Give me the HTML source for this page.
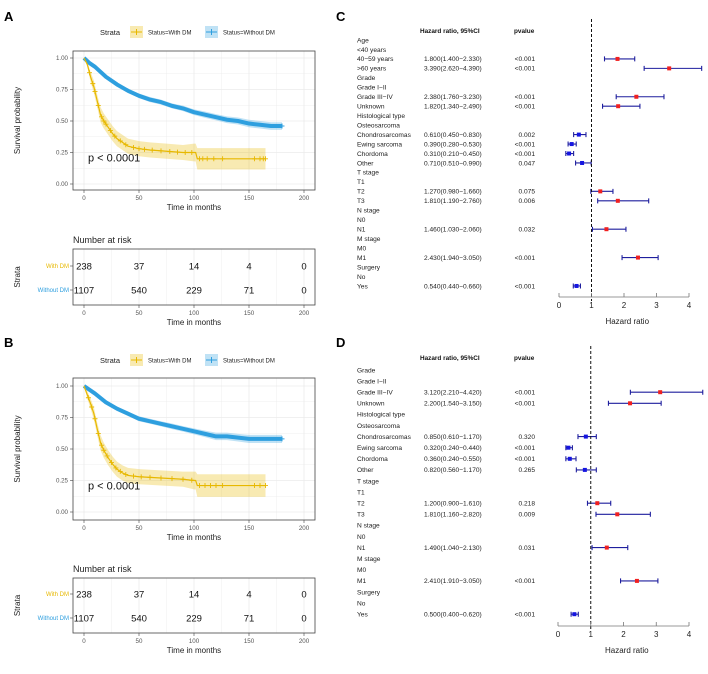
<!DOCTYPE html>
<html><head><meta charset="utf-8"><style>
html,body{margin:0;padding:0;background:#fff}
svg{display:block;font-family:"Liberation Sans",Arial,sans-serif}
</style></head><body>
<svg id="fig" width="708" height="674" viewBox="0 0 708 674" xmlns="http://www.w3.org/2000/svg"></svg>
<script>
// ---------- KM data ----------
const timeTicks = [0,50,100,150,200];
const survTicks = [0,0.25,0.5,0.75,1.0];
const survTickLabels = ["0.00","0.25","0.50","0.75","1.00"];
const riskWithDM = [238,37,14,4,0];
const riskWithoutDM = [1107,540,229,71,0];

const aWithT  = [0,3,6,9,12,15,18,22,26,30,35,40,50,60,75,90,100,101.5,103,165];
const aWithS  = [1,0.95,0.85,0.77,0.66,0.55,0.50,0.45,0.40,0.36,0.33,0.30,0.28,0.27,0.26,0.25,0.25,0.25,0.20,0.20];
const aWithCIw= [0,0.02,0.04,0.05,0.05,0.06,0.06,0.06,0.06,0.06,0.06,0.06,0.06,0.06,0.06,0.06,0.07,0.07,0.085,0.085];
const aWoT    = [0,5,10,20,30,40,50,60,70,80,90,100,110,120,130,140,150,160,170,180];
const aWoS    = [1,0.96,0.93,0.85,0.79,0.74,0.70,0.67,0.65,0.62,0.60,0.57,0.55,0.53,0.51,0.50,0.48,0.47,0.46,0.46];
const aWoCIw  = [0,0.01,0.012,0.015,0.015,0.017,0.018,0.02,0.02,0.02,0.022,0.022,0.025,0.025,0.027,0.028,0.03,0.03,0.03,0.03];
const aWithCens = [5,8,10,13,16,18,20,24,28,33,38,45,50,55,62,70,78,85,92,98,105,108,112,118,126,155,160,163,165];

const bWithT  = [0,3,6,9,12,15,18,22,26,30,35,40,50,70,90,100,101.5,103,165];
const bWithS  = [1,0.93,0.86,0.78,0.66,0.55,0.49,0.43,0.38,0.34,0.31,0.29,0.28,0.27,0.26,0.25,0.25,0.21,0.21];
const bWithCIw= [0,0.03,0.04,0.05,0.05,0.06,0.06,0.06,0.06,0.06,0.06,0.06,0.06,0.06,0.06,0.07,0.07,0.09,0.09];
const bWoT    = [0,10,20,30,40,50,60,70,80,90,100,110,120,130,140,150,180];
const bWoS    = [1,0.94,0.87,0.82,0.78,0.74,0.72,0.70,0.68,0.66,0.64,0.62,0.60,0.60,0.59,0.58,0.58];
const bWoCIw  = [0,0.012,0.015,0.017,0.018,0.02,0.02,0.02,0.022,0.022,0.024,0.026,0.03,0.03,0.03,0.032,0.032];
const bWithCens = [4,7,10,13,16,18,21,25,29,33,38,45,52,60,70,80,90,98,105,110,115,120,126,155,160,165];

// ---------- Forest data ----------
const cLabels = ["Age","<40 years","40−59 years",">60 years","Grade","Grade I−II","Grade III−IV","Unknown","Histological type","Osteosarcoma","Chondrosarcomas","Ewing sarcoma","Chordoma","Other","T stage","T1","T2","T3","N stage","N0","N1","M stage","M0","M1","Surgery","No","Yes"];
const cHR  = [null,null,1.80,3.39,null,null,2.38,1.82,null,null,0.61,0.39,0.31,0.71,null,null,1.27,1.81,null,null,1.46,null,null,2.43,null,null,0.54];
const cLo  = [null,null,1.40,2.62,null,null,1.76,1.34,null,null,0.45,0.28,0.21,0.51,null,null,0.98,1.19,null,null,1.03,null,null,1.94,null,null,0.44];
const cHi  = [null,null,2.33,4.39,null,null,3.23,2.49,null,null,0.83,0.53,0.45,0.99,null,null,1.66,2.76,null,null,2.06,null,null,3.05,null,null,0.66];
const cP   = ["","","<0.001","<0.001","","","<0.001","<0.001","","","0.002","<0.001","<0.001","0.047","","","0.075","0.006","","","0.032","","","<0.001","","","<0.001"];

const dLabels = ["Grade","Grade I−II","Grade III−IV","Unknown","Histological type","Osteosarcoma","Chondrosarcomas","Ewing sarcoma","Chordoma","Other","T stage","T1","T2","T3","N stage","N0","N1","M stage","M0","M1","Surgery","No","Yes"];
const dHR  = [null,null,3.12,2.20,null,null,0.85,0.32,0.36,0.82,null,null,1.20,1.81,null,null,1.49,null,null,2.41,null,null,0.50];
const dLo  = [null,null,2.21,1.54,null,null,0.61,0.24,0.24,0.56,null,null,0.90,1.16,null,null,1.04,null,null,1.91,null,null,0.40];
const dHi  = [null,null,4.42,3.15,null,null,1.17,0.44,0.55,1.17,null,null,1.61,2.82,null,null,2.13,null,null,3.05,null,null,0.62];
const dP   = ["","","<0.001","<0.001","","","0.320","<0.001","<0.001","0.265","","","0.218","0.009","","","0.031","","","<0.001","","","<0.001"];
const hrTicks = [0,1,2,3,4];

const NS="http://www.w3.org/2000/svg";
const svg=document.getElementById('fig');
function el(tag,attrs,parent,txt){const e=document.createElementNS(NS,tag);for(const k in attrs)e.setAttribute(k,attrs[k]);if(txt!==undefined)e.textContent=txt;(parent||svg).appendChild(e);return e;}
const YEL="#E7B800",BLU="#2E9FDF";

function linePath(T,S,fx,fy){return "M"+T.map((t,i)=>fx(t)+","+fy(S[i])).join("L");}
function bandPath(T,S,W,fx,fy){const up=T.map((t,i)=>fx(t)+","+fy(Math.min(1,S[i]+W[i])));const lo=T.map((t,i)=>fx(t)+","+fy(Math.max(0,S[i]-W[i]))).reverse();return "M"+up.join("L")+"L"+lo.join("L")+"Z";}
function survAt(T,S,t){for(let i=1;i<T.length;i++){if(T[i]>=t){const f=(t-T[i-1])/(T[i]-T[i-1]);return S[i-1]+f*(S[i]-S[i-1]);}}return S[S.length-1];}

function kmPanel(letter,oy,pb,p){
 const g=el('g',{},svg);
 
 
 const L=73,R=315,x0=84,x200=304;
 const fx=t=>x0+(x200-x0)*t/200, fy=s=>pb.y0+(pb.y1-pb.y0)*s;
 let t=el('text',{x:4,y:oy+21,'font-size':13,'font-weight':'bold'},g,letter);
 
 const lg=el('g',{},g);
 const ly=pb.leg;
 el('text',{x:100,y:ly+3,'font-size':7.5,fill:'#222'},lg,'Strata');
 el('rect',{x:130,y:ly-6,width:13,height:12,fill:YEL,'fill-opacity':0.3},lg);
 el('line',{x1:131,x2:142,y1:ly,y2:ly,stroke:YEL,'stroke-width':1},lg);
 el('line',{x1:136.5,x2:136.5,y1:ly-3,y2:ly+3,stroke:YEL,'stroke-width':1},lg);
 let e1=el('text',{x:148,y:ly+2.5,'font-size':6,fill:'#222'},lg,'Status=With DM');
 el('rect',{x:205,y:ly-6,width:13,height:12,fill:BLU,'fill-opacity':0.3},lg);
 el('line',{x1:206,x2:217,y1:ly,y2:ly,stroke:BLU,'stroke-width':1},lg);
 el('line',{x1:211.5,x2:211.5,y1:ly-3,y2:ly+3,stroke:BLU,'stroke-width':1},lg);
 let e2=el('text',{x:223,y:ly+2.5,'font-size':6,fill:'#222'},lg,'Status=Without DM');
 const grid=el('g',{stroke:'#ebebeb','stroke-width':0.6},g);
 for(let m=0;m<=200;m+=25){el('line',{x1:fx(m),x2:fx(m),y1:pb.top,y2:pb.bottom,'stroke-width':m%50?0.4:0.8},grid);}
 for(let s=0;s<=1.0001;s+=0.125){el('line',{x1:L,x2:R,y1:fy(s),y2:fy(s),'stroke-width':(Math.round(s*8)%2)?0.4:0.8},grid);}
 el('path',{d:bandPath(p.woT,p.woS,p.woW,fx,fy),fill:BLU,'fill-opacity':0.3},g);
 el('path',{d:bandPath(p.wT,p.wS,p.wW,fx,fy),fill:YEL,'fill-opacity':0.3},g);
 let c1=el('path',{d:linePath(p.woT,p.woS,fx,fy),fill:'none',stroke:BLU,'stroke-width':4,'stroke-linejoin':'round'},g);
 
 let c2=el('path',{d:linePath(p.wT,p.wS,fx,fy),fill:'none',stroke:YEL,'stroke-width':1.2},g);
 
 p.cens.forEach(ct=>{const x=fx(ct),y=fy(survAt(p.wT,p.wS,ct));el('path',{d:`M${x-2.5},${y}H${x+2.5}M${x},${y-2.5}V${y+2.5}`,stroke:YEL,'stroke-width':0.9},g);});
 const lastT=p.woT[p.woT.length-1],lastS=p.woS[p.woS.length-1];
 el('path',{d:`M${fx(lastT)-2.5},${fy(lastS)}H${fx(lastT)+2.5}M${fx(lastT)},${fy(lastS)-2.5}V${fy(lastS)+2.5}`,stroke:BLU,'stroke-width':1},g);
 el('rect',{x:L,y:pb.top,width:R-L,height:pb.bottom-pb.top,fill:'none',stroke:'#444','stroke-width':0.8},g);
 let pv=el('text',{x:88,y:fy(0.25)+9,'font-size':11,fill:'#111'},g,'p < 0.0001');
 survTicks.forEach((s,i)=>{el('line',{x1:L-3,x2:L,y1:fy(s),y2:fy(s),stroke:'#444','stroke-width':0.6},g);el('text',{x:L-5,y:fy(s)+2.2,'font-size':6.2,fill:'#555','text-anchor':'end'},g,survTickLabels[i]);});
 timeTicks.forEach(tt=>{el('line',{x1:fx(tt),x2:fx(tt),y1:pb.bottom,y2:pb.bottom+3,stroke:'#444','stroke-width':0.6},g);el('text',{x:fx(tt),y:pb.bottom+10,'font-size':6.2,fill:'#555','text-anchor':'middle'},g,String(tt));});
 let xt=el('text',{x:194,y:pb.bottom+20,'font-size':8,fill:'#222','text-anchor':'middle'},g,'Time in months');
 let yt=el('text',{x:0,y:0,'font-size':8,fill:'#222','text-anchor':'middle',transform:`translate(20,${(pb.top+pb.bottom)/2}) rotate(-90)`},g,'Survival probability');
 const rt=el('g',{},g);
 el('text',{x:L,y:pb.riskTop-6,'font-size':9,fill:'#222'},rt,'Number at risk');
 for(let m=0;m<=200;m+=25){el('line',{x1:fx(m),x2:fx(m),y1:pb.riskTop,y2:pb.riskBot,stroke:'#ebebeb','stroke-width':m%50?0.4:0.8},rt);}
 el('rect',{x:L,y:pb.riskTop,width:R-L,height:pb.riskBot-pb.riskTop,fill:'none',stroke:'#444','stroke-width':0.8},rt);
 el('text',{x:L-4,y:pb.row1+2,'font-size':6,fill:YEL,'text-anchor':'end'},rt,'With DM');
 el('text',{x:L-4,y:pb.row2+2,'font-size':6,fill:BLU,'text-anchor':'end'},rt,'Without DM');
 el('line',{x1:L-3,x2:L,y1:pb.row1,y2:pb.row1,stroke:'#444','stroke-width':0.6},rt);
 el('line',{x1:L-3,x2:L,y1:pb.row2,y2:pb.row2,stroke:'#444','stroke-width':0.6},rt);
 timeTicks.forEach((tt,i)=>{
  el('text',{x:fx(tt),y:pb.row1+3.5,'font-size':9.5,fill:'#111','text-anchor':'middle'},rt,String(riskWithDM[i]));
  el('text',{x:fx(tt),y:pb.row2+3.5,'font-size':9.5,fill:'#111','text-anchor':'middle'},rt,String(riskWithoutDM[i]));
  el('line',{x1:fx(tt),x2:fx(tt),y1:pb.riskBot,y2:pb.riskBot+3,stroke:'#444','stroke-width':0.6},rt);
  el('text',{x:fx(tt),y:pb.riskBot+10,'font-size':6.2,fill:'#555','text-anchor':'middle'},rt,String(tt));
 });
 el('text',{x:194,y:pb.riskBot+20,'font-size':8,fill:'#222','text-anchor':'middle'},rt,'Time in months');
 el('text',{x:0,y:0,'font-size':8,fill:'#222','text-anchor':'middle',transform:`translate(20,${(pb.riskTop+pb.riskBot)/2}) rotate(-90)`},rt,'Strata');
}

kmPanel('A',0,{leg:32,top:51,bottom:190,y1:58,y0:184,riskTop:249,riskBot:305,row1:266,row2:290},
 {wT:aWithT,wS:aWithS,wW:aWithCIw,woT:aWoT,woS:aWoS,woW:aWoCIw,cens:aWithCens});
kmPanel('B',326,{leg:360,top:378,bottom:520,y1:386,y0:512,riskTop:578,riskBot:633,row1:594,row2:618},
 {wT:bWithT,wS:bWithS,wW:bWithCIw,woT:bWoT,woS:bWoS,woW:bWoCIw,cens:bWithCens});

function forest(letter,labY,cfg,labels,hr,lo,hi,pv){
 const g=el('g',{},svg);
 
 
 let t=el('text',{x:336,y:labY,'font-size':13,'font-weight':'bold'},g,letter);
 
 const fx=v=>cfg.x0+(cfg.x4-cfg.x0)*v/4, ry=i=>cfg.row0+cfg.step*i;
 el('text',{x:420,y:cfg.head+2,'font-size':6.4,'font-weight':'bold',fill:'#111'},g,'Hazard ratio, 95%CI');
 el('text',{x:514,y:cfg.head+2,'font-size':6.4,'font-weight':'bold',fill:'#111'},g,'pvalue');
 labels.forEach((lab,i)=>{
  const y=ry(i);
  el('text',{x:357,y:y+2.3,'font-size':6.6,fill:'#222'},g,lab);
  if(hr[i]!==null){
   el('text',{x:424,y:y+2.3,'font-size':6.6,fill:'#222'},g,hr[i].toFixed(3)+'('+lo[i].toFixed(3)+'−'+hi[i].toFixed(3)+')');
   el('text',{x:535,y:y+2.3,'font-size':6.6,fill:'#222','text-anchor':'end'},g,pv[i]);
   const ci=el('path',{d:`M${fx(lo[i])},${y}H${fx(hi[i])}M${fx(lo[i])},${y-2.5}V${y+2.5}M${fx(hi[i])},${y-2.5}V${y+2.5}`,stroke:'#1f1f9e','stroke-width':1.1,fill:'none'},g);
   
   
   const sq=el('rect',{x:fx(hr[i])-2,y:y-2,width:4,height:4,fill:hr[i]>1?'#f02020':'#1515e0'},g);
   
   
  }
 });
 el('line',{x1:fx(1),x2:fx(1),y1:cfg.head-12,y2:cfg.axis+4,stroke:'#111','stroke-width':1,'stroke-dasharray':'3,2'},g);
 const ax=el('g',{},g);
 el('line',{x1:fx(0),x2:fx(4),y1:cfg.axis,y2:cfg.axis,stroke:'#777','stroke-width':0.8},ax);
 hrTicks.forEach(v=>{el('line',{x1:fx(v),x2:fx(v),y1:cfg.axis,y2:cfg.axis-4,stroke:'#777','stroke-width':0.8},ax);el('text',{x:fx(v),y:cfg.axis+11,'font-size':8,fill:'#222','text-anchor':'middle'},ax,String(v));});
 el('text',{x:fx(2.1),y:cfg.axis+27,'font-size':8,fill:'#222','text-anchor':'middle'},ax,'Hazard ratio');
}
forest('C',21,{x0:559,x4:689,head:31,row0:40,step:9.46,axis:297},cLabels,cHR,cLo,cHi,cP);
forest('D',347,{x0:558,x4:689,head:358,row0:370,step:11.1,axis:626},dLabels,dHR,dLo,dHi,dP);
</script>
</body></html>
